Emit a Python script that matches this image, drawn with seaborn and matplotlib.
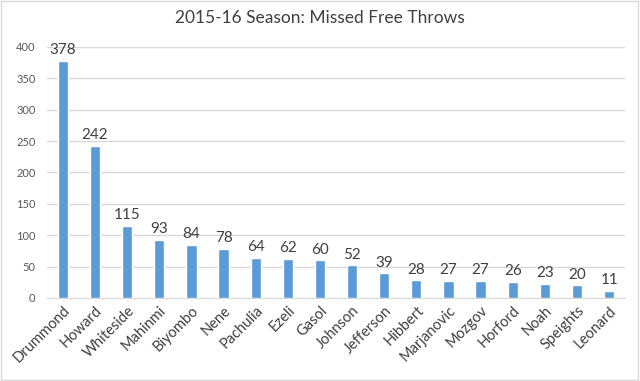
import pandas as pd
import seaborn as sns
import matplotlib.pyplot as plt

players = ["Drummond", "Howard", "Whiteside", "Mahinmi", "Biyombo", "Nene", "Pachulia",
           "Ezeli", "Gasol", "Johnson", "Jefferson", "Hibbert", "Marjanovic", "Mozgov",
           "Horford", "Noah", "Speights", "Leonard"]
missed = [378, 242, 115, 93, 84, 78, 64, 62, 60, 52, 39, 28, 27, 27, 26, 23, 20, 11]

df = pd.DataFrame({"Player": players, "Missed": missed})

sns.set_style("white")
plt.rcParams["font.family"] = ["Lato", "DejaVu Sans"]

fig = plt.figure(figsize=(6.4, 3.81), dpi=100)
ax = fig.add_axes([0.073, 0.218, 0.904, 0.659])
sns.barplot(x="Player", y="Missed", data=df, color="#5B9BD5", width=0.32,
            saturation=1, ax=ax, zorder=3)

ax.set_ylim(0, 400)
ax.set_xlim(-0.5, len(players) - 0.5)
ax.set_yticks(range(0, 401, 50))
ax.yaxis.grid(True, color="#d9d9d9", linewidth=1, zorder=0)
ax.set_xlabel("")
ax.set_ylabel("")
for s in ["top", "right", "left"]:
    ax.spines[s].set_visible(False)
ax.spines["bottom"].set_color("#d9d9d9")
ax.tick_params(axis="y", labelsize=8, colors="#595959", length=0, pad=8)
ax.tick_params(axis="x", labelsize=10.5, colors="#404040", length=0, pad=4)
plt.setp(ax.get_xticklabels(), rotation=45, ha="right", rotation_mode="anchor")

# data labels above bars
for i, v in enumerate(missed):
    ax.text(i, v + 6, str(v), ha="center", va="bottom", fontsize=11, color="#404040")

fig.suptitle("2015-16 Season: Missed Free Throws", y=0.975, fontsize=12.5, color="#404040")

border = plt.Rectangle((0.002, 0.003), 0.995, 0.994, transform=fig.transFigure,
                       fill=False, edgecolor="#d9d9d9", linewidth=1)
fig.patches.append(border)

fig.savefig("out.png", dpi=100)
